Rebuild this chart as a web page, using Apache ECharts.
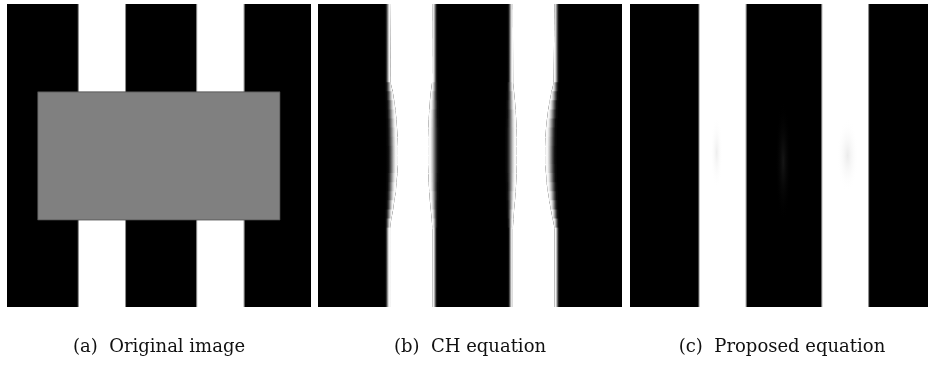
<!DOCTYPE html>
<html>
<head>
<meta charset="utf-8">
<script src="https://cdn.jsdelivr.net/npm/echarts@6/dist/echarts.min.js"></script>
<style>
html,body{margin:0;padding:0;background:#fff;}
#chart{width:928px;height:365px;}
</style>
</head>
<body>
<div id="chart"></div>
<script>
// ---- captions ----
const captions = ['(a)  Original image', '(b)  CH equation', '(c)  Proposed equation'];

// ---- (a) original image, image coords 0..100 (x right, y down) ----
// white stripes [x0, x1]
const origStripes = [[23.45, 39.0], [62.4, 78.0]];
// grey block [x0, x1, y0, y1, grey level 0..255]
const origBlock = [[10.1, 89.8, 29.0, 71.3, 128]];

// ---- (b) CH equation: stripe edge positions (50% level) sampled down the image ----
const chY            = [-2,   26,   29,   32,   35,   38,   41,   44,   47,   50,   53,   56,   59,   62,   65,   68,   71,   74,   102];
const chStripe1Left  = [22.8, 22.9, 23.3, 23.6, 23.8, 24.0, 24.1, 24.2, 24.3, 24.3, 24.3, 24.2, 24.0, 23.9, 23.6, 23.4, 23.0, 22.8, 22.8];
const chStripe1Right = [38.5, 38.5, 38.4, 38.3, 38.3, 38.2, 38.2, 38.2, 38.2, 38.2, 38.2, 38.2, 38.2, 38.3, 38.3, 38.4, 38.5, 38.5, 38.5];
const chStripe2Left  = [63.2, 63.2, 63.2, 63.3, 63.3, 63.4, 63.4, 63.4, 63.4, 63.4, 63.4, 63.4, 63.4, 63.3, 63.3, 63.2, 63.2, 63.2, 63.2];
const chStripe2Right = [78.7, 78.5, 78.1, 77.7, 77.4, 77.1, 76.9, 76.8, 76.7, 76.7, 76.7, 76.9, 77.0, 77.3, 77.6, 77.9, 78.3, 78.7, 78.7];
// half-width of the smeared transition at each sample
const chSpread       = [0.9,  1.0,  1.3,  1.5,  1.7,  1.8,  1.9,  2.0,  2.0,  2.0,  2.0,  1.9,  1.8,  1.7,  1.5,  1.3,  1.1,  0.9,  0.9];

// ---- (c) proposed equation ----
const propStripes = [[22.7, 38.2], [63.1, 78.5]];
// faint residual blobs [cx, cy, rx, ry, grey level]
const propBlobs = [[28.5, 49, 2.0, 12, 238], [71.6, 50, 3.6, 12, 235], [50.4, 52, 2.6, 20, 22]];

const chEdges = [[chStripe1Left, chStripe1Right], [chStripe2Left, chStripe2Right]];
const grey = g => 'rgb(' + g + ',' + g + ',' + g + ')';

const gridBoxes = [
  {left: 7,   top: 4, width: 304, height: 303},
  {left: 318, top: 4, width: 304, height: 303},
  {left: 630, top: 4, width: 304, height: 303}
];

function stripeItem(params, api) {
  const p0 = api.coord([api.value(0), 0]);
  const p1 = api.coord([api.value(1), 100]);
  return {
    type: 'group',
    children: [
      {type: 'rect', shape: {x: p0[0], y: p0[1], width: p1[0] - p0[0], height: p1[1] - p0[1]}, style: {fill: '#fff'}},
      {type: 'line', shape: {x1: p0[0], y1: p0[1], x2: p0[0], y2: p1[1]}, style: {stroke: '#8c8c8c', lineWidth: 1}},
      {type: 'line', shape: {x1: p1[0], y1: p0[1], x2: p1[0], y2: p1[1]}, style: {stroke: '#8c8c8c', lineWidth: 1}}
    ]
  };
}

function blockItem(params, api) {
  const p0 = api.coord([api.value(0), api.value(2)]);
  const p1 = api.coord([api.value(1), api.value(3)]);
  return {
    type: 'rect',
    shape: {x: p0[0], y: p0[1], width: p1[0] - p0[0], height: p1[1] - p0[1]},
    style: {fill: grey(api.value(4)), stroke: 'rgba(70,70,70,0.7)', lineWidth: 1}
  };
}

const rampStops = [[0, 0], [0.2, 12], [0.35, 60], [0.5, 128], [0.65, 196], [0.8, 243], [1, 255]];
function ramp(fromWhite) {
  return {type: 'linear', x: 0, y: 0, x2: 1, y2: 0,
    colorStops: rampStops.map(([o, g]) => ({offset: fromWhite ? 1 - o : o, color: grey(g)}))
  };
}

function chItem(params, api) {
  const s = api.value(0);
  const L = chEdges[s][0], R = chEdges[s][1];
  const n = chY.length;
  const children = [];
  // white core between the inner ends of the two transitions
  const core = [];
  for (let i = 0; i < n; i++) core.push(api.coord([L[i] + chSpread[i], chY[i]]));
  for (let i = n - 1; i >= 0; i--) core.push(api.coord([R[i] - chSpread[i], chY[i]]));
  children.push({type: 'polygon', shape: {points: core}, style: {fill: '#fff'}});
  // soft transitions, segment by segment
  [[L, false], [R, true]].forEach(([E, fromWhite]) => {
    for (let i = 0; i < n - 1; i++) {
      const ya = chY[i] - 0.2, yb = chY[i + 1] + 0.2;
      const pts = [
        api.coord([E[i] - chSpread[i], ya]),
        api.coord([E[i] + chSpread[i], ya]),
        api.coord([E[i + 1] + chSpread[i + 1], yb]),
        api.coord([E[i + 1] - chSpread[i + 1], yb])
      ];
      children.push({type: 'polygon', shape: {points: pts}, style: {fill: ramp(fromWhite)}});
    }
  });
  return {type: 'group', children};
}

function blobItem(params, api) {
  const c = api.coord([api.value(0), api.value(1)]);
  const e = api.coord([api.value(0) + api.value(2), api.value(1) + api.value(3)]);
  const rx = Math.abs(e[0] - c[0]), ry = Math.abs(e[1] - c[1]);
  const g = api.value(4);
  const base = g > 128 ? 'rgba(255,255,255,0)' : 'rgba(0,0,0,0)';
  return {
    type: 'circle',
    x: c[0], y: c[1], scaleY: ry / rx,
    shape: {cx: 0, cy: 0, r: rx},
    style: {
      fill: {type: 'radial', x: 0.5, y: 0.5, r: 0.5,
        colorStops: [{offset: 0, color: grey(g)}, {offset: 1, color: base}]}
    }
  };
}

const chart = echarts.init(document.getElementById('chart'), null, {renderer: 'canvas'});
chart.setOption({
  animation: false,
  backgroundColor: '#fff',
  grid: gridBoxes.map(b => Object.assign({show: true, backgroundColor: '#000', borderWidth: 0, outerBoundsMode: 'none'}, b)),
  xAxis: captions.map((c, i) => ({
    type: 'value', gridIndex: i, min: 0, max: 100,
    name: c, nameLocation: 'middle', nameGap: 31,
    nameTextStyle: {fontFamily: 'DejaVu Serif', fontSize: 18, color: '#111'},
    axisLine: {show: false, onZero: false}, axisTick: {show: false},
    axisLabel: {show: false}, splitLine: {show: false}
  })),
  yAxis: captions.map((c, i) => ({
    type: 'value', gridIndex: i, min: 0, max: 100, inverse: true, show: false,
    splitLine: {show: false}
  })),
  series: [
    {type: 'custom', xAxisIndex: 0, yAxisIndex: 0, clip: true, data: origStripes, renderItem: stripeItem},
    {type: 'custom', xAxisIndex: 0, yAxisIndex: 0, clip: true, data: origBlock, renderItem: blockItem},
    {type: 'custom', xAxisIndex: 1, yAxisIndex: 1, clip: true, data: chEdges.map((e, i) => [i]), renderItem: chItem},
    {type: 'custom', xAxisIndex: 2, yAxisIndex: 2, clip: true, data: propStripes, renderItem: stripeItem},
    {type: 'custom', xAxisIndex: 2, yAxisIndex: 2, clip: true, data: propBlobs, renderItem: blobItem}
  ]
});
</script>
</body>
</html>
